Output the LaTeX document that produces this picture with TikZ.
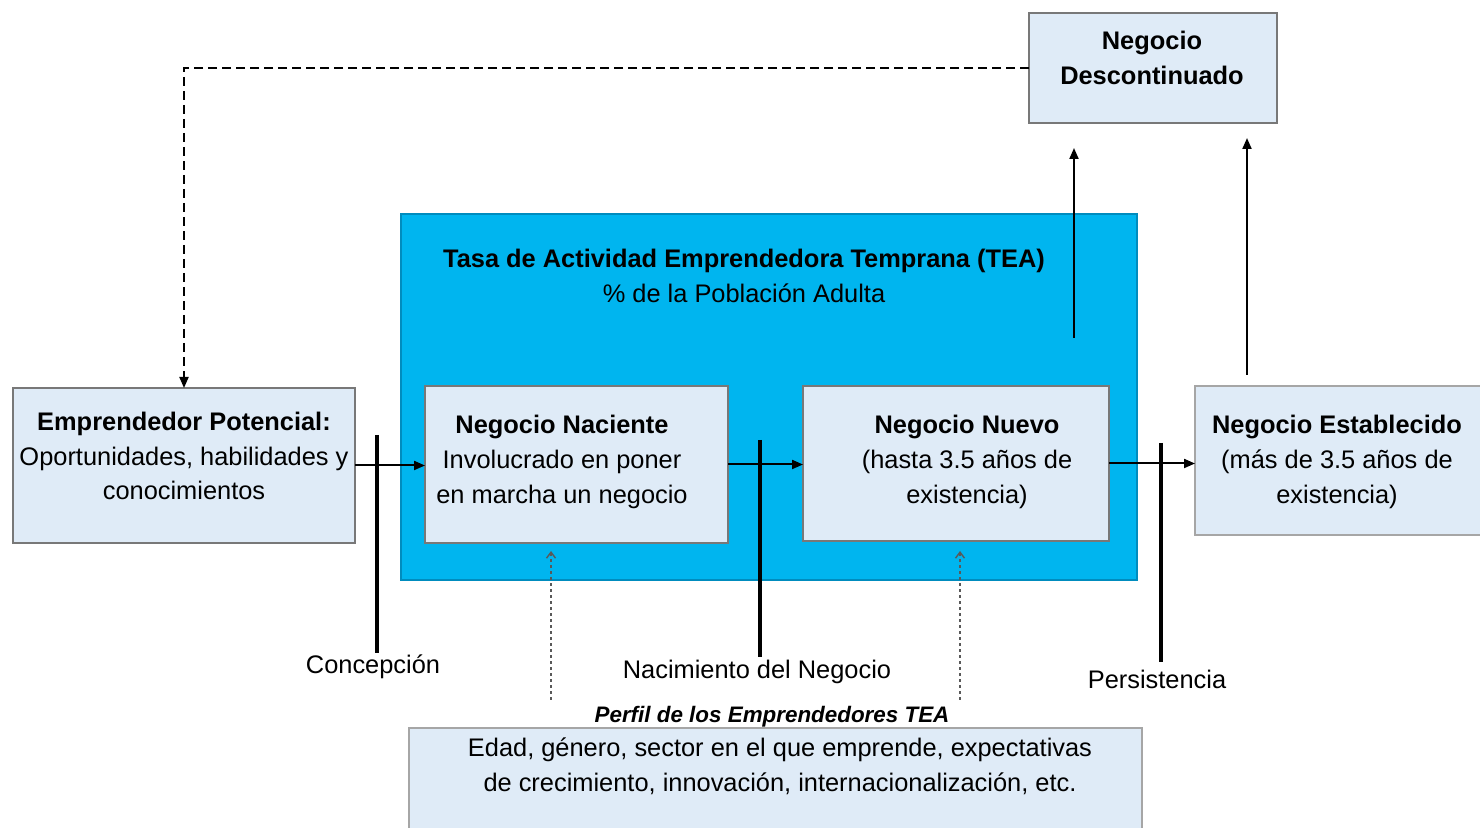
\documentclass[tikz,border=0pt]{standalone}
\usepackage{fontspec}
\setmainfont{Liberation Sans}
\usetikzlibrary{arrows.meta}
\definecolor{boxfill}{RGB}{223,235,247}
\definecolor{boxline}{RGB}{120,120,120}
\definecolor{teafill}{RGB}{0,181,239}
\definecolor{tealine}{RGB}{0,140,190}
\tikzset{
  lbox/.style={draw=boxline, fill=boxfill, line width=0.8pt, inner sep=0pt, outer sep=0pt},
  txt/.style={align=center, inner sep=0pt, font=\fontsize{12.7}{17.3}\selectfont},
  arr/.style={line width=1pt, -{Triangle[length=5.5pt,width=4.5pt]}},
  bar/.style={line width=2.2pt},
  dotarr/.style={draw=black!65, line width=0.7pt, dash pattern=on 1.5pt off 1.5pt, -{Straight Barb[length=3pt,width=4.5pt]}},
}
\begin{document}
\begin{tikzpicture}[x=0.5pt,y=-0.5pt]
\useasboundingbox (0,0) rectangle (1480,828);
% boxes
\node[draw=tealine, fill=teafill, line width=0.8pt, inner sep=0pt, minimum width=368pt, minimum height=183pt] (tea) at (769,397) {};
\node[lbox, minimum width=171pt, minimum height=77.5pt] (pot) at (184,465.5) {};
\node[lbox, minimum width=151.5pt, minimum height=78.5pt] (nac) at (576.5,464.5) {};
\node[lbox, minimum width=153pt, minimum height=77.5pt] (nue) at (956,463.5) {};
\node[lbox, draw=black!35, minimum width=143.5pt, minimum height=74.5pt] (est) at (1338.5,460.5) {};
\node[lbox, minimum width=124pt, minimum height=55pt] (des) at (1153,68) {};
\node[lbox, draw=black!35, minimum width=366.5pt, minimum height=52pt] (perf) at (775.5,780) {};
% texts
\node[txt] (teaT) at (744,276) {\textbf{Tasa de Actividad Emprendedora Temprana (TEA)}\\\% de la Población Adulta};
\node[txt] (potT) at (184,456) {\textbf{Emprendedor Potencial:}\\Oportunidades, habilidades y\\conocimientos};
\node[txt] (nacT) at (562,462) {\textbf{Negocio Naciente}\\Involucrado en poner\\en marcha un negocio};
\node[txt] (nueT) at (967,462) {\textbf{Negocio Nuevo}\\(hasta 3.5 años de\\existencia)};
\node[txt] (estT) at (1337,462) {\textbf{Negocio Establecido}\\(más de 3.5 años de\\existencia)};
\node[txt] (desT) at (1152,58) {\textbf{Negocio}\\\textbf{Descontinuado}};
\node[txt, font=\fontsize{11.2}{14}\selectfont\bfseries\itshape] (perfT) at (772,717) {Perfil de los Emprendedores TEA};
\node[txt] (perfB) at (780,766) {Edad, género, sector en el que emprende, expectativas\\de crecimiento, innovación, internacionalización, etc.};
\node[txt] (conT) at (373,667) {Concepción};
\node[txt] (nacimT) at (757,672) {Nacimiento del Negocio};
\node[txt] (perT) at (1157,679) {Persistencia};
% main flow arrows
\draw[arr] (pot.east) -- (pot.east -| nac.west);
\draw[arr] (nac.east) -- (nac.east -| nue.west);
\draw[arr] (nue.east) -- (nue.east -| est.west);
% thick bars
\coordinate (b1t) at (377,435); \coordinate (b1b) at (377,653);
\coordinate (b2t) at (760,440); \coordinate (b2b) at (760,657);
\coordinate (b3t) at (1161,443); \coordinate (b3b) at (1161,662);
\draw[bar] (b1t) -- (b1b);
\draw[bar] (b2t) -- (b2b);
\draw[bar] (b3t) -- (b3b);
% upward arrows to Descontinuado
\coordinate (u1s) at (1074,338); \coordinate (u1e) at (1074,148);
\coordinate (u2s) at (1247,375); \coordinate (u2e) at (1247,138);
\draw[arr] (u1s) -- (u1e);
\draw[arr] (u2s) -- (u2e);
% dashed feedback
\draw[line width=1pt, dash pattern=on 4.5pt off 2.5pt, -{Triangle[length=5.5pt,width=4.5pt]}] (des.west) -- (des.west -| pot.north) -- (pot.north);
% dotted profile arrows
\coordinate (d1s) at (551,700); \coordinate (d1e) at (551,551);
\coordinate (d2s) at (960,700); \coordinate (d2e) at (960,551);
\draw[dotarr] (d1s) -- (d1e);
\draw[dotarr] (d2s) -- (d2e);
\end{tikzpicture}
\end{document}
